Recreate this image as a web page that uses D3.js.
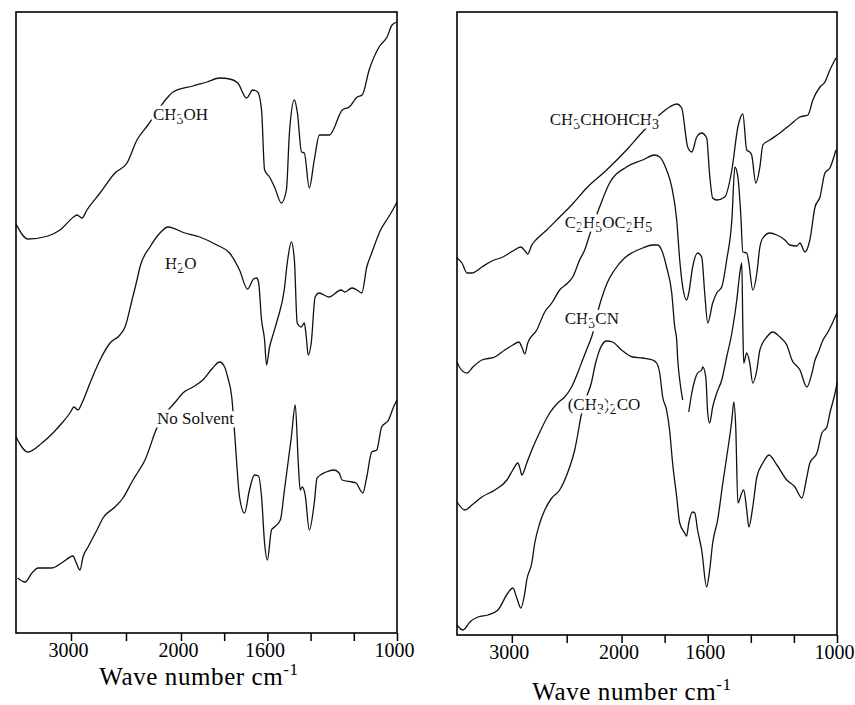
<!DOCTYPE html>
<html>
<head>
<meta charset="utf-8">
<script src="https://cdn.jsdelivr.net/npm/d3@7"></script>
<style>
  body { margin: 0; background: #fff; }
  svg { display: block; font-family: "Liberation Serif", "Times New Roman", serif; }
</style>
</head>
<body>
<svg id="chart" width="855" height="705"></svg>
<script>
// x axis: wave number, scale changes at 2000 cm-1
var waveBreaks = [3500, 2000, 1000];
var tickLabeled = [3000, 2000, 1600, 1000];
var tickMinor = [2500, 1800, 1400, 1200];

// spectra: [wave number, transmittance (a.u., offset)]
var ch3oh = [[3500,41.0],[3391,39.5],[3209,39.8],[3100,40.4],[2964,41.8],[2945,41.9],[2900,41.6],[2855,42.4],[2736,44.1],[2600,46.1],[2491,47.1],[2400,49.4],[2300,50.9],[2127,53.6],[2073,54.2],[1945,54.8],[1880,55.2],[1820,55.6],[1774,55.5],[1737,55.1],[1696,53.6],[1668,54.4],[1645,54.2],[1627,52.4],[1613,46.4],[1590,45.7],[1567,44.7],[1535,43.1],[1512,44.4],[1498,50.1],[1475,53.4],[1461,52.1],[1442,48.2],[1429,48.1],[1406,44.6],[1383,47.4],[1359,49.9],[1313,49.9],[1253,52.4],[1221,52.7],[1184,53.7],[1161,53.9],[1129,56.4],[1083,58.7],[1046,59.7],[1023,60.9],[1000,61.2]];

var h2o = [[3500,19.7],[3391,18.2],[3264,19.1],[3164,20.1],[3082,21.1],[3009,22.1],[2973,22.7],[2936,22.4],[2900,23.1],[2827,25.1],[2736,27.4],[2645,29.1],[2555,29.9],[2509,30.7],[2445,33.4],[2400,35.4],[2373,36.7],[2282,38.7],[2191,40.1],[2118,40.7],[2073,40.6],[1995,40.2],[1913,39.7],[1834,38.9],[1775,38.1],[1729,36.4],[1692,34.5],[1664,35.5],[1650,35.6],[1641,35.2],[1627,31.4],[1613,29.4],[1604,26.9],[1590,28.7],[1577,29.7],[1554,31.4],[1522,34.4],[1508,37.1],[1489,39.2],[1475,37.4],[1462,31.1],[1443,30.7],[1429,31.1],[1420,29.7],[1411,27.9],[1397,29.1],[1379,33.7],[1361,34.1],[1315,33.7],[1259,34.4],[1241,34.2],[1209,34.6],[1186,34.4],[1163,34.1],[1140,36.7],[1117,38.1],[1076,40.4],[1048,41.4],[1025,42.2],[1000,43.2]];

var noSolvent = [[3485,5.6],[3418,5.2],[3355,6.1],[3300,6.6],[3173,6.6],[3073,7.2],[2982,7.8],[2955,7.2],[2918,6.4],[2891,7.7],[2845,8.7],[2764,10.4],[2709,11.6],[2600,12.7],[2527,13.6],[2436,15.4],[2391,16.2],[2327,17.4],[2282,18.7],[2245,19.9],[2036,23.4],[1991,24.1],[1945,24.7],[1899,25.4],[1853,26.6],[1821,27.2],[1798,26.7],[1784,25.7],[1765,23.7],[1751,19.9],[1742,17.1],[1729,13.7],[1706,12.1],[1683,14.4],[1660,15.9],[1641,15.8],[1627,13.7],[1613,9.1],[1600,7.4],[1581,10.4],[1567,10.7],[1540,11.4],[1521,14.4],[1489,19.7],[1471,22.9],[1457,17.1],[1448,14.4],[1439,14.7],[1425,13.9],[1406,10.4],[1383,13.1],[1370,15.6],[1328,16.2],[1291,16.4],[1268,16.1],[1254,15.4],[1209,15.2],[1190,15.1],[1158,14.1],[1140,15.7],[1117,18.2],[1094,18.4],[1071,20.7],[1039,21.4],[1016,22.7],[1000,23.4]];

var isopropanol = [[3500,37.6],[3455,37.1],[3409,36.1],[3364,36.1],[3273,36.7],[3182,37.3],[3082,37.7],[2991,38.3],[2918,38.7],[2873,38.2],[2855,38.0],[2818,38.9],[2773,39.5],[2682,40.4],[2564,41.7],[2455,42.9],[2318,44.6],[2136,46.4],[1977,48.4],[1907,50.1],[1814,52.1],[1777,52.7],[1744,53.0],[1721,52.6],[1693,48.7],[1674,48.2],[1651,49.7],[1628,50.1],[1605,49.6],[1591,45.9],[1577,43.6],[1558,43.4],[1521,43.7],[1488,46.4],[1460,50.7],[1437,52.0],[1419,48.4],[1405,48.2],[1396,47.9],[1377,45.1],[1358,46.7],[1344,48.9],[1312,49.4],[1265,50.1],[1219,50.9],[1172,51.7],[1135,51.9],[1112,53.4],[1079,54.7],[1056,55.2],[1033,56.4],[1005,57.6]];

var ether = [[3500,27.2],[3473,26.6],[3409,26.1],[3355,26.7],[3273,27.4],[3155,27.7],[3064,28.4],[2991,28.9],[2936,29.2],[2909,28.7],[2882,28.0],[2855,29.1],[2773,30.4],[2700,32.2],[2636,33.1],[2564,34.4],[2491,35.1],[2445,35.7],[2382,37.4],[2336,38.4],[2291,39.9],[2200,42.7],[2109,45.1],[1977,46.7],[1902,47.4],[1847,47.9],[1823,47.7],[1791,46.4],[1767,44.7],[1744,41.4],[1730,37.4],[1716,34.7],[1698,33.4],[1688,34.1],[1670,36.7],[1647,38.1],[1628,37.7],[1614,34.1],[1600,31.1],[1577,33.1],[1558,34.1],[1535,34.7],[1512,37.4],[1488,41.4],[1474,46.7],[1460,45.7],[1447,42.1],[1437,38.2],[1419,38.1],[1409,37.1],[1391,34.4],[1372,36.1],[1358,38.7],[1344,39.6],[1312,40.1],[1279,39.9],[1242,39.4],[1219,38.9],[1186,38.8],[1172,39.1],[1149,38.2],[1126,39.4],[1102,42.7],[1079,43.7],[1056,46.1],[1033,46.6],[1005,48.4]];

var acetonitrile = [[3500,13.2],[3427,12.4],[3364,12.9],[3273,13.7],[3155,14.4],[3045,15.4],[2991,16.4],[2945,17.1],[2927,16.6],[2909,15.9],[2864,17.1],[2818,18.4],[2745,20.2],[2655,22.1],[2582,23.1],[2518,23.7],[2455,24.7],[2400,26.1],[2355,27.4],[2309,28.7],[2273,29.7],[2200,32.9],[2127,35.2],[2064,36.4],[1986,37.6],[1953,38.1],[1902,38.6],[1856,38.9],[1833,38.9],[1814,38.4],[1791,36.7],[1767,34.1],[1753,30.7],[1744,29.4],[1740,27.7],[1730,25.4],[1716,23.4],[1702,null],[1688,22.2],[1674,24.1],[1660,25.4],[1647,26.1],[1628,26.4],[1623,26.7],[1609,25.7],[1600,22.1],[1591,21.1],[1577,22.7],[1558,24.1],[1535,25.4],[1512,27.7],[1488,30.1],[1465,33.4],[1451,36.1],[1442,37.1],[1437,30.7],[1433,27.1],[1419,28.1],[1405,27.1],[1391,25.1],[1372,26.4],[1358,28.4],[1326,29.7],[1298,30.2],[1265,29.7],[1233,28.9],[1209,27.4],[1172,26.4],[1140,24.7],[1116,26.1],[1102,27.4],[1088,28.1],[1065,29.4],[1042,30.2],[1019,31.2],[1000,32.1]];

var acetone = [[3500,0.9],[3445,0.4],[3382,1.2],[3309,1.7],[3218,1.9],[3127,2.4],[3036,4.1],[2991,4.6],[2955,3.6],[2918,2.6],[2882,4.1],[2864,5.4],[2818,7.1],[2791,9.1],[2745,11.1],[2700,12.4],[2636,13.6],[2564,14.4],[2518,15.4],[2473,16.7],[2427,18.4],[2400,19.9],[2373,21.6],[2336,23.2],[2273,25.2],[2245,26.7],[2200,28.4],[2136,29.3],[2082,29.2],[2000,28.4],[1949,27.7],[1902,27.6],[1856,27.4],[1837,27.1],[1823,26.1],[1809,23.7],[1791,22.4],[1777,20.4],[1763,17.1],[1744,13.7],[1730,11.1],[1707,10.1],[1698,9.8],[1688,11.1],[1670,12.2],[1660,12.1],[1647,10.4],[1628,8.4],[1605,4.7],[1591,6.4],[1577,9.1],[1554,11.4],[1530,15.1],[1512,17.7],[1488,21.4],[1479,23.2],[1470,20.7],[1460,13.1],[1442,14.1],[1433,14.4],[1419,12.4],[1409,10.7],[1391,12.7],[1372,15.7],[1344,17.1],[1316,17.9],[1279,16.9],[1233,15.4],[1195,14.7],[1163,13.6],[1140,15.7],[1126,17.1],[1093,18.1],[1070,20.1],[1047,20.7],[1033,22.1],[1009,24.1],[1000,25.1]];

// curve labels: text parts (true = subscript) and anchor [wave number, T]
var leftSeries = [
  { data: ch3oh, label: [["CH",false],["3",true],["OH",false]], at: [2255, 51.4] },
  { data: h2o, label: [["H",false],["2",true],["O",false]], at: [2145, 36.5] },
  { data: noSolvent, label: [["No Solvent",false]], at: [2218, 21.0] }
];
var rightSeries = [
  { data: isopropanol, label: [["CH",false],["3",true],["CHOHCH",false],["3",true]], at: [2655, 50.9] },
  { data: ether, label: [["C",false],["2",true],["H",false],["5",true],["OC",false],["2",true],["H",false],["5",true]], at: [2518, 40.6] },
  { data: acetonitrile, label: [["CH",false],["3",true],["CN",false]], at: [2518, 31.0] },
  { data: acetone, label: [["(CH",false],["3",true],[")",false],["2",true],["CO",false]], at: [2491, 22.4] }
];

var svg = d3.select("#chart");

function drawPanel(left, right, top, bottom, series, titleX, titleY) {
  var breakX = left + (right - left) * 0.433;
  var x = d3.scaleLinear().domain(waveBreaks).range([left, breakX, right]);
  var y = d3.scaleLinear().domain([0, 62.2]).range([634, 12]);

  var g = svg.append("g");

  var line = d3.line()
    .defined(function(d) { return d[1] != null; })
    .x(function(d) { return x(d[0]); })
    .y(function(d) { return y(d[1]); })
    .curve(d3.curveMonotoneX);

  g.selectAll("path.spec")
    .data(series)
    .enter().append("path")
    .attr("class", "spec")
    .attr("d", function(d) { return line(d.data); })
    .attr("fill", "none")
    .attr("stroke", "#111")
    .attr("stroke-width", 1.3)
    .attr("stroke-linejoin", "round");

  // labels with a white halo, which cuts the curves as in the print
  series.forEach(function(s) {
    var t = g.append("text")
      .attr("x", x(s.at[0]))
      .attr("y", y(s.at[1]))
      .attr("font-size", 17)
      .attr("fill", "#111")
      .attr("stroke", "#fff")
      .attr("stroke-width", 7)
      .attr("paint-order", "stroke")
      .attr("stroke-linejoin", "round");
    var sub = false;
    s.label.forEach(function(p) {
      var dy = 0;
      if (p[1] && !sub) dy = 4;
      if (!p[1] && sub) dy = -4;
      sub = p[1];
      t.append("tspan")
        .attr("dy", dy)
        .attr("font-size", p[1] ? 14 : 17)
        .text(p[0]);
    });
  });

  // frame
  g.append("rect")
    .attr("x", left).attr("y", top)
    .attr("width", right - left).attr("height", bottom - top)
    .attr("fill", "none")
    .attr("stroke", "#000")
    .attr("stroke-width", 1.6);

  // bottom axis
  var axis = d3.axisBottom(x)
    .tickValues(tickLabeled.concat(tickMinor))
    .tickSize(8)
    .tickPadding(5)
    .tickFormat(function(d) { return tickLabeled.indexOf(d) >= 0 ? d : ""; });
  var ax = g.append("g")
    .attr("transform", "translate(0," + bottom + ")")
    .call(axis);
  ax.select(".domain").remove();
  ax.selectAll(".tick line").attr("stroke", "#000").attr("stroke-width", 1.5);
  ax.selectAll(".tick text")
    .attr("font-family", "Liberation Serif, serif")
    .attr("font-size", 20)
    .attr("fill", "#000")
    .attr("dx", -3)
    .attr("y", 10)
    .attr("dy", "0.71em");

  var title = g.append("text")
    .attr("x", titleX)
    .attr("y", titleY)
    .attr("text-anchor", "middle")
    .attr("font-size", 25)
    .attr("letter-spacing", 0.6)
    .attr("fill", "#000");
  title.append("tspan").text("Wave number cm");
  title.append("tspan").attr("dy", -10).attr("font-size", 17).text("-1");
}

drawPanel(16, 397, 12, 633, leftSeries, 199, 685);
drawPanel(457, 837, 12, 635, rightSeries, 632, 700);
</script>
</body>
</html>
